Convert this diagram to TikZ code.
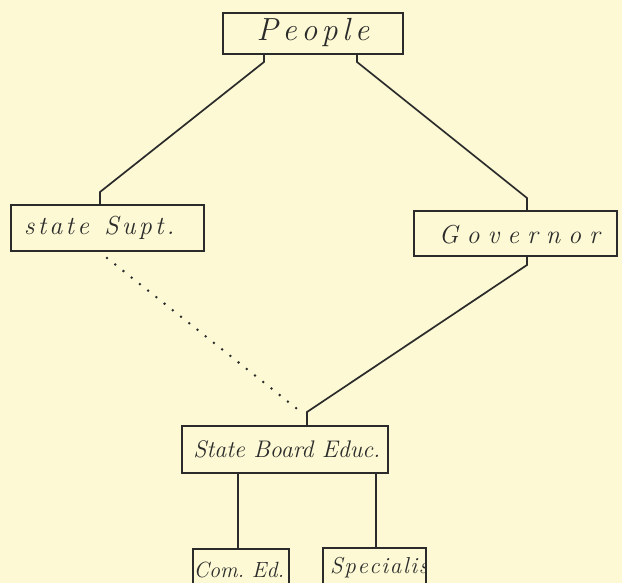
\documentclass[tikz,border=0pt]{standalone}
\usepackage{fontspec}
\usetikzlibrary{calc}
\definecolor{paper}{HTML}{FCF9D4}
\definecolor{ink}{HTML}{2B2B2B}
% spread the letters of a word by a fixed kern
\makeatletter
\newcommand\spreadit[2]{\def\sp@k{\kern#1}\sp@first#2\relax}
\def\sp@first#1{#1\sp@loop}
\def\sp@loop#1{\ifx#1\relax\else\sp@k#1\expandafter\sp@loop\fi}
\makeatother
\tikzset{
  orgbox/.style={draw=ink, line width=1.8pt, inner sep=0pt, anchor=north west},
  label text/.style={text=ink, inner sep=0pt},
  link/.style={draw=ink, line width=1.7pt},
  dotlink/.style={draw=ink, line width=2.8pt, dash pattern=on 0pt off 10.5pt, line cap=round},
}
\begin{document}
\begin{tikzpicture}[x=1pt,y=-1pt]
\fill[paper] (0,0) rectangle (622,583);
\useasboundingbox (0,0) rectangle (622,583);
\clip (0,0) rectangle (622,583);

% boxes
\node[orgbox, minimum width=180pt, minimum height=41pt] (people) at (222,12) {};
\node[orgbox, minimum width=193pt, minimum height=46pt] (supt) at (10,204) {};
\node[orgbox, minimum width=203pt, minimum height=45pt] (gov) at (413,210) {};
\node[orgbox, minimum width=206pt, minimum height=47pt] (board) at (181,425) {};
\node[orgbox, minimum width=96pt, minimum height=50pt] (comed) at (192,548) {};
\node[orgbox, draw=none, minimum width=101pt, minimum height=50pt] (spec) at (323,548) {};

% labels
\node[label text, font=\fontsize{32}{32}\selectfont\itshape] at ($(people.center)+(0,-1)$) {\spreadit{4.5pt}{People}};
\node[label text, anchor=west, font=\fontsize{26}{26}\selectfont\itshape] at ($(supt.west)+(14,0)$) {\spreadit{3.2pt}{state~Supt.}};
\node[label text, font=\fontsize{26}{26}\selectfont\itshape] at ($(gov.center)+(4,1)$) {\spreadit{8pt}{Governor}};
\node[label text, font=\fontsize{24}{24}\selectfont\itshape] at ($(board.center)+(2,0)$) {State~Board~Educ.};
\node[label text, font=\fontsize{22}{22}\selectfont\itshape] at ($(comed.north)+(-2,22)$) {Com.~Ed.};
\begin{scope}
  \clip (spec.north west) rectangle (spec.south east);
  \node[label text, anchor=west, font=\fontsize{23}{23}\selectfont\itshape] at ($(spec.north west)+(7,20)$) {\spreadit{1.6pt}{Specialist}};
\end{scope}
\draw[ink, line width=1.8pt] (spec.north west) rectangle (spec.south east);

% stub ends
\coordinate (pl) at (264,62);
\coordinate (pr) at (357,62);
\coordinate (st) at (100,192);
\coordinate (gt) at (527,198);
\coordinate (gb) at (527,265);
\coordinate (bt) at (307,412);

% solid connectors
\draw[link] (people.south -| pl) -- (pl) -- (st) -- (supt.north -| st);
\draw[link] (people.south -| pr) -- (pr) -- (gt) -- (gov.north -| gt);
\draw[link] (gov.south -| gb) -- (gb) -- (bt) -- (board.north -| bt);
\draw[link] (board.south -| 238,0) -- (comed.north -| 238,0);
\draw[link] (board.south -| 376,0) -- (spec.north -| 376,0);

% dotted connector
\coordinate (sd) at (107,258);
\coordinate (bd) at (301,412);
\draw[dotlink] (sd) -- (bd);
\end{tikzpicture}
\end{document}
